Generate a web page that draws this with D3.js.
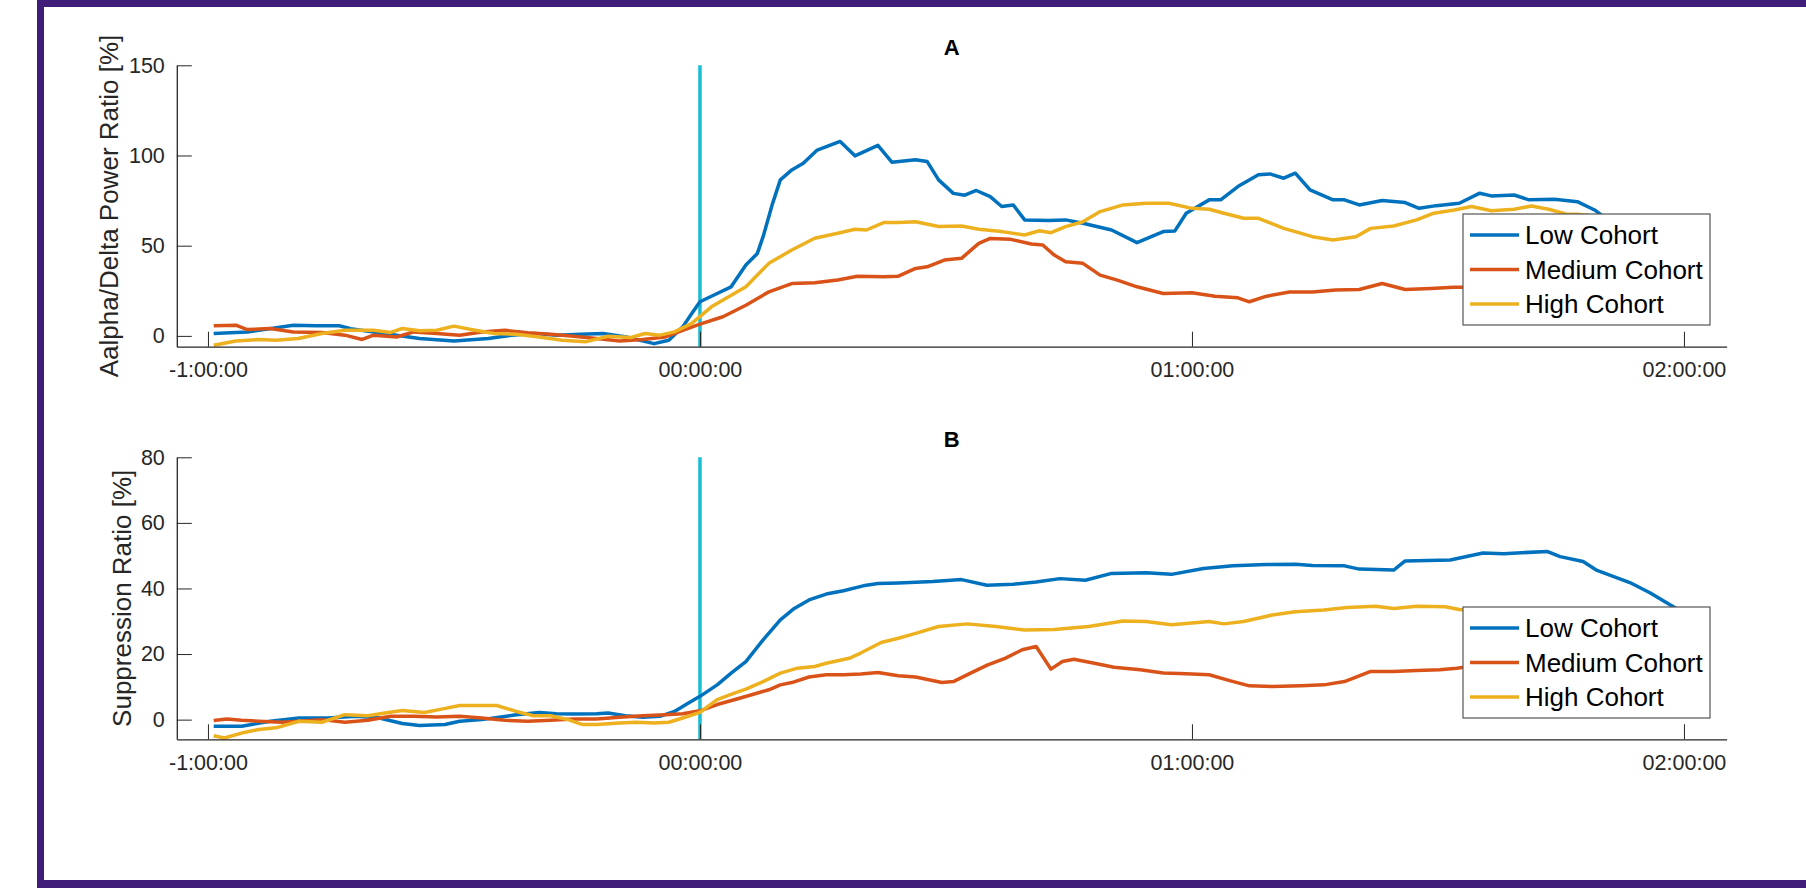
<!DOCTYPE html>
<html>
<head>
<meta charset="utf-8">
<script src="https://cdn.jsdelivr.net/npm/d3@7"></script>
<style>
  html, body { margin: 0; padding: 0; background: #fff; }
  svg text { font-family: "Liberation Sans", Arial, Helvetica, sans-serif; }
</style>
</head>
<body>
<svg id="chart" width="1806" height="888"></svg>
<script>
// ---------------- data (time in minutes relative to event, value in %) ----------------
const seriesNames = ["Low Cohort", "Medium Cohort", "High Cohort"];
const xTickValues = [-60, 0, 60, 120];
const xTickLabels = ["-1:00:00", "00:00:00", "01:00:00", "02:00:00"];
const yTicksA = [0, 50, 100, 150];
const yTicksB = [0, 20, 40, 60, 80];

// Panel A : Aalpha/Delta Power Ratio
const lowA = [[-59.3,1.3],[-55.2,2.2],[-49.6,5.9],[-46.8,5.6],[-44,5.6],[-42.6,4],[-39.8,2.2],[-37,0.4],[-34.2,-1.5],[-30,-2.8],[-25.8,-1.5],[-23,0.4],[-20.2,1.3],[-17.4,0.4],[-14.6,0.9],[-11.8,1.3],[-9,-0.6],[-5.6,-4.3],[-3.8,-2.4],[-2.1,5],[-1,12.4],[0,18.9],[2.1,23.5],[3.8,27.2],[5.6,39.3],[7,45.7],[7.7,55],[8.8,72.6],[9.8,86.5],[11.2,92],[12.6,95.7],[14.3,103],[17.1,107.8],[18.9,99.8],[21.7,105.6],[23.4,96.3],[26.3,97.6],[27.7,96.7],[29.1,86.5],[30.9,79],[32.3,78],[33.7,80.6],[35.4,77.2],[36.8,71.7],[38.2,72.6],[39.6,64.3],[42.5,63.9],[44.6,64.3],[46.7,62.4],[50.2,58.7],[53.3,51.7],[56.5,57.8],[57.9,58.1],[59.3,68],[62.1,75.4],[63.5,75.4],[65.6,82.8],[68.1,89.3],[69.5,89.8],[71.2,87.4],[72.6,90.2],[74.4,80.9],[77.2,75.4],[78.6,75.4],[80.4,72.6],[83.2,75],[86,73.9],[87.7,70.7],[89.8,72.2],[92.6,73.5],[95.1,79.1],[96.5,77.6],[99.3,78.1],[101.1,75.4],[104.2,75.7],[107,74.4],[109.1,69.8],[110.2,66.1],[112.6,60.6],[116,56]];
const mediumA = [[-59.3,5.6],[-56.6,5.9],[-55.2,3.5],[-52.4,4.1],[-49.6,2.2],[-46.1,1.9],[-43.3,0.4],[-41.2,-2],[-39.8,0.4],[-37,-0.6],[-34.9,2.2],[-32.1,1.3],[-29.3,0.4],[-26.6,2.2],[-23.8,3.1],[-21,1.7],[-18.2,0.9],[-15.4,-0.2],[-12.6,-1.5],[-9.8,-2.8],[-7,-2],[-4.2,-0.6],[-2.1,3.1],[0,6.5],[2.8,10.6],[5.6,17],[8.4,24.4],[11.2,29],[14,29.4],[16.8,31],[19.2,33.1],[22.4,32.8],[24.2,33.1],[26.3,37.4],[27.7,38.3],[29.8,42],[31.9,43],[34,51.3],[35.4,54],[37.9,53.5],[40.4,50.9],[41.8,50.4],[43.2,44.8],[44.6,41.1],[46.7,40.2],[48.8,33.7],[50.9,30.9],[53.3,27.2],[56.5,23.5],[60,23.9],[62.8,22],[65.6,21.1],[67,18.9],[69.1,22],[71.9,24.3],[74.7,24.3],[77.5,25.4],[80.4,25.7],[83.2,29],[86,25.7],[89.1,26.3],[91.9,26.9],[96,27]];
const highA = [[-59.3,-5.2],[-56.6,-2.8],[-53.8,-2],[-51.7,-2.4],[-49,-1.5],[-46.1,1.3],[-43.3,3.1],[-39.8,3.1],[-37.7,1.9],[-36.3,4.1],[-34.2,2.8],[-32.1,3.1],[-30,5.4],[-27.9,3.5],[-25.1,1.3],[-22.4,0.9],[-19.6,-0.6],[-16.8,-2.4],[-14,-3.3],[-11.2,-0.2],[-8.4,-0.9],[-6.7,1.3],[-4.9,0.4],[-3.1,2.2],[-1,6.9],[1.4,16.1],[3.5,21.7],[5.6,27.2],[8.4,40.2],[11.2,47.6],[14,54.1],[16.8,56.9],[18.9,59.1],[20.3,58.7],[22.4,62.8],[24.2,62.8],[26.3,63.3],[29.1,60.6],[31.9,60.9],[34,59.1],[36.8,57.8],[39.6,55.9],[41.4,58.3],[42.8,57.2],[44.6,60.6],[46.7,63.3],[48.8,68.9],[51.6,72.6],[54.4,73.5],[57.2,73.5],[60,70.7],[62.1,70.2],[63.9,68],[66.3,65.2],[68.1,65.2],[71.2,59.6],[74.7,55],[77.2,53.1],[80,55],[81.8,59.6],[84.6,60.9],[87.4,64.3],[89.5,68],[92,69.8],[94.1,71.7],[96.5,69.4],[99.3,70.2],[101.4,72],[103.5,70.2],[105.6,67.6],[107,67.4],[110,66]];

// Panel B : Suppression Ratio
const lowB = [[-59.3,-2],[-55.9,-2],[-52.4,-0.5],[-48.9,0.5],[-45.4,0.5],[-41.9,1],[-39.1,0.5],[-36.3,-1.2],[-34.2,-1.8],[-31.1,-1.5],[-29.3,-0.5],[-26.6,0],[-24.5,0.7],[-22.4,1.5],[-19.6,2.2],[-17.5,1.8],[-15.4,1.7],[-12.6,1.8],[-11.2,2],[-9.1,1.2],[-7,0.7],[-4.9,1],[-3.1,2.5],[-1.4,5.1],[0,7.1],[2.1,10.6],[3.8,14.2],[5.6,17.7],[7.7,24.3],[9.8,30.4],[11.5,33.9],[13.3,36.5],[15.4,38.3],[17.5,39.3],[19.9,40.8],[21.7,41.5],[24.2,41.7],[28.4,42.1],[31.9,42.7],[35,41],[38.2,41.3],[41,42],[43.9,43],[47,42.5],[50.2,44.6],[54.4,44.8],[57.5,44.3],[61.4,46.1],[65,46.9],[69.1,47.3],[72.6,47.4],[74.7,47],[78.6,46.9],[80.4,45.9],[84.6,45.6],[86,48.4],[91.5,48.7],[95.5,50.8],[98,50.6],[103.3,51.3],[104.9,49.7],[107.7,48.2],[109.4,45.5],[113.4,41.8],[115.9,38.6],[118.3,35],[121,31]];
const mediumB = [[-59.3,-0.3],[-57.7,0.2],[-55.9,-0.2],[-53.8,-0.5],[-51,-0.8],[-48.9,-0.5],[-46.1,0],[-43.3,-0.8],[-40.5,-0.2],[-37.7,1],[-34.9,1],[-32.1,0.8],[-29.3,1],[-26.6,0.5],[-23.8,-0.2],[-21,-0.5],[-18.2,-0.2],[-15.4,0.2],[-12.6,0.2],[-9.8,0.7],[-7,1.2],[-4.2,1.5],[-2.1,1.8],[0,2.7],[2.1,4.6],[4.5,6.3],[6.3,7.6],[8.4,9.1],[9.8,10.6],[11.2,11.3],[13.3,13],[15.4,13.7],[17.5,13.7],[19.6,13.9],[21.7,14.4],[24.2,13.4],[26.3,13],[29.5,11.3],[30.9,11.6],[33,14.2],[35.1,16.7],[37.2,18.7],[39.3,21.3],[41,22.3],[42.8,15.4],[44.2,17.7],[45.6,18.4],[48.1,17.2],[50.5,16],[53.7,15.2],[56.5,14.2],[59.3,14],[62.1,13.7],[64.6,11.9],[67,10.3],[69.8,10.1],[73.3,10.3],[76.1,10.6],[78.6,11.6],[81.8,14.7],[84.6,14.7],[87.4,15],[90.2,15.2],[92.3,15.7],[96,17]];
const highB = [[-59.3,-4.9],[-58,-5.6],[-55.9,-4.1],[-53.8,-3],[-51.7,-2.5],[-48.9,-0.5],[-46.1,-0.8],[-43.3,1.5],[-40.5,1.2],[-38.4,2],[-36.3,2.8],[-33.6,2.2],[-31.5,3.2],[-29.3,4.3],[-26.6,4.3],[-24.8,4.3],[-22.4,2.5],[-20.3,1.2],[-18.2,1.2],[-16.1,0],[-14.3,-1.5],[-12.6,-1.5],[-9.8,-1],[-7.7,-0.8],[-5.6,-1],[-3.8,-0.8],[-2.1,0.5],[0,2.2],[2.1,6.1],[4.2,8.1],[5.6,9.3],[7.7,11.6],[9.8,14.2],[11.9,15.7],[14,16.2],[15.4,17.2],[18.2,18.7],[19.6,20.3],[22.1,23.5],[24.2,24.8],[26.3,26.3],[29.1,28.4],[32.6,29.2],[36.1,28.4],[39.6,27.3],[43.2,27.5],[47.4,28.4],[51.6,30.1],[54.4,29.9],[57.5,28.9],[62.1,29.9],[63.9,29.2],[66.3,29.9],[69.8,31.9],[72.6,32.9],[76.1,33.4],[78.9,34.2],[82.4,34.6],[84.6,33.9],[87.4,34.6],[90.9,34.4],[92.6,33.6],[96,33]];

// ---------------- styles ----------------
const colors = ["#0072BD", "#D95319", "#EDB120"];
const markerColor = "#17BED3";
const axisColor = "#262626";
const frameColor = "#3F1D78";

const svg = d3.select("#chart");
svg.append("rect").attr("width", 1806).attr("height", 888).attr("fill", "#fff");

// purple frame
svg.append("rect").attr("x", 37).attr("y", 0).attr("width", 1806 - 37).attr("height", 7).attr("fill", frameColor);
svg.append("rect").attr("x", 37).attr("y", 0).attr("width", 7).attr("height", 888).attr("fill", frameColor);
svg.append("rect").attr("x", 37).attr("y", 880).attr("width", 1806 - 37).attr("height", 8).attr("fill", frameColor);

const xDomain = [-63.8, 125.2];
const xRange = [176.8, 1726.6];

const panels = [
  { title: "A", ylabel: "Aalpha/Delta Power Ratio [%]", yDomain: [-6, 150], yRange: [346.7, 65.3],
    yTicks: yTicksA, data: [lowA, mediumA, highA], labelX: 118, legendTop: 214, markerTop: 150 },
  { title: "B", ylabel: "Suppression Ratio [%]", yDomain: [-6, 80], yRange: [739.3, 457.3],
    yTicks: yTicksB, data: [lowB, mediumB, highB], labelX: 131, legendTop: 607, markerTop: 80 }
];

panels.forEach(p => {
  const x = d3.scaleLinear().domain(xDomain).range(xRange);
  const y = d3.scaleLinear().domain(p.yDomain).range(p.yRange);
  const g = svg.append("g");

  // event marker
  g.append("line")
    .attr("x1", x(0)).attr("x2", x(0))
    .attr("y1", y(p.markerTop)).attr("y2", y(p.yDomain[0]))
    .attr("stroke", markerColor).attr("stroke-width", 3.5);

  // data lines
  const line = d3.line().x(d => x(d[0])).y(d => y(d[1]));
  p.data.forEach((s, i) => {
    g.append("path").datum(s)
      .attr("d", line)
      .attr("fill", "none")
      .attr("stroke", colors[i])
      .attr("stroke-width", 3.5)
      .attr("stroke-linejoin", "round");
  });

  // axes
  const yAxis = d3.axisLeft(y).tickValues(p.yTicks).tickSizeInner(-15).tickSizeOuter(0).tickPadding(12);
  const xAxis = d3.axisBottom(x).tickValues(xTickValues)
    .tickFormat((d, i) => xTickLabels[i]).tickSizeInner(-15).tickSizeOuter(0).tickPadding(15);

  const ya = g.append("g").attr("transform", `translate(${xRange[0]},0)`).call(yAxis);
  const xa = g.append("g").attr("transform", `translate(0,${p.yRange[0]})`).call(xAxis);
  [ya, xa].forEach(a => {
    a.select(".domain").attr("stroke", axisColor).attr("stroke-width", 1.3);
    a.selectAll(".tick line").attr("stroke", axisColor).attr("stroke-width", 1);
    a.selectAll(".tick text").attr("fill", axisColor).style("font-size", "21.5px")
      .style("font-family", '"Liberation Sans", Arial, sans-serif');
  });

  // y label
  const cy = (p.yRange[0] + p.yRange[1]) / 2;
  g.append("text")
    .attr("transform", `translate(${p.labelX},${cy}) rotate(-90)`)
    .attr("text-anchor", "middle")
    .attr("fill", axisColor)
    .style("font-size", "26px")
    .text(p.ylabel);

  // title
  g.append("text")
    .attr("x", (xRange[0] + xRange[1]) / 2)
    .attr("y", p.yRange[1] - 10.5)
    .attr("text-anchor", "middle")
    .attr("fill", "#000")
    .style("font-size", "22px").style("font-weight", "bold")
    .text(p.title);

  // legend
  const lg = g.append("g");
  lg.append("rect")
    .attr("x", 1463).attr("y", p.legendTop).attr("width", 247).attr("height", 111)
    .attr("fill", "#fff").attr("stroke", "#555").attr("stroke-width", 1.2);
  seriesNames.forEach((name, i) => {
    const ry = p.legendTop + 21 + i * 34.5;
    lg.append("line").attr("x1", 1470).attr("x2", 1519).attr("y1", ry).attr("y2", ry)
      .attr("stroke", colors[i]).attr("stroke-width", 3.5);
    lg.append("text").attr("x", 1525).attr("y", ry).attr("dy", "0.35em")
      .attr("fill", "#000").style("font-size", "26px").text(name);
  });
});
</script>
</body>
</html>
